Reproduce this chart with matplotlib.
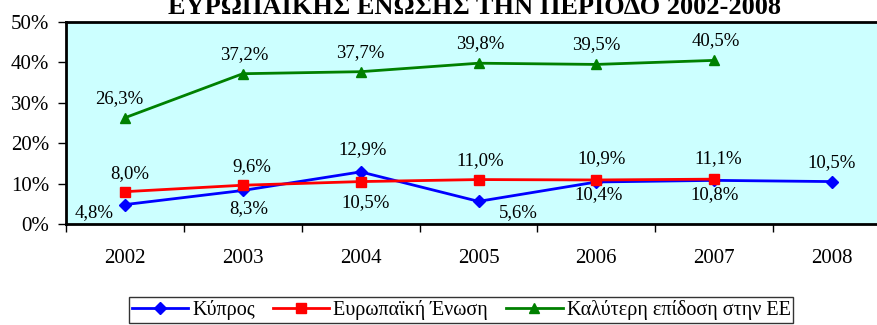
import matplotlib
matplotlib.use('Agg')
import matplotlib.pyplot as plt
import numpy as np

plt.rcParams['font.family'] = ['Liberation Serif', 'DejaVu Serif']

# Data
years = ['2002', '2003', '2004', '2005', '2006', '2007', '2008']
cyprus = [4.8, 8.3, 12.9, 5.6, 10.4, 10.8, 10.5]
eu = [8.0, 9.6, 10.5, 11.0, 10.9, 11.1]
best_eu = [26.3, 37.2, 37.7, 39.8, 39.5, 40.5]
yticks = [0, 10, 20, 30, 40, 50]

# label offsets in pixels (dx, dy)
cyprus_off = [(-31, -8), (6, -18), (2, 22), (40, -11), (2, -13), (0, -14), (0, 19)]
eu_off = [(5, 18), (9, 19), (5, -21), (2, 19), (5, 21), (4, 21)]
best_off = [(-6, 19), (1, 19), (0, 19), (2, 20), (0, 20), (2, 20)]

fig = plt.figure(figsize=(8.77, 3.25), dpi=100)
ax = fig.add_axes([66 / 877, 101 / 325, 825 / 877, 202 / 325])
ax.set_facecolor('#CCFFFF')

x = np.arange(len(years))
ax.plot(x, cyprus, color='#0000FF', lw=2, marker='D', ms=6, label='Κύπρος')
ax.plot(x[:len(eu)], eu, color='#FF0000', lw=2, marker='s', ms=7.5, label='Ευρωπαϊκή Ένωση')
ax.plot(x[:len(best_eu)], best_eu, color='#008000', lw=2, marker='^', ms=7.5,
        label='Καλύτερη επίδοση στην ΕΕ')

def fmt(v):
    return f'{v:.1f}%'.replace('.', ',')

for series, offs in [(cyprus, cyprus_off), (eu, eu_off), (best_eu, best_off)]:
    for i, v in enumerate(series):
        ax.annotate(fmt(v), (i, v), xytext=offs[i], textcoords='offset pixels',
                    ha='center', va='center', fontsize=13.5)

ax.set_xlim(-0.5, len(years) - 0.5)
ax.set_ylim(0, 50)
ax.set_yticks(yticks)
ax.set_yticklabels([f'{t}%' for t in yticks], fontsize=15)
ax.set_xticks(np.arange(len(years) + 1) - 0.5)
ax.set_xticklabels([])
ax.set_xticks(x, minor=True)
ax.set_xticklabels(years, minor=True, fontsize=15)
ax.tick_params(axis='x', which='minor', length=0, pad=18)
ax.tick_params(axis='x', which='major', length=6, width=1, direction='out')
ax.tick_params(axis='y', length=6, width=1, direction='out', pad=6)
for s in ax.spines.values():
    s.set_linewidth(2)
    s.set_color('black')

fig.text(475 / 877, 1 - 14 / 325, 'ΕΥΡΩΠΑΪΚΗΣ ΕΝΩΣΗΣ ΤΗΝ ΠΕΡΙΟΔΟ 2002-2008',
         ha='center', va='baseline', fontsize=19, fontweight='bold')

leg = fig.legend(loc='upper center', bbox_to_anchor=(461 / 877, 1 - 297 / 325), ncol=3,
                 fontsize=14.5, frameon=True, fancybox=False, edgecolor='black',
                 handlelength=2.8, columnspacing=0.9, handletextpad=0.2,
                 borderpad=0.15, borderaxespad=0)
leg.get_frame().set_linewidth(1)

fig.savefig('out.png', dpi=100)
